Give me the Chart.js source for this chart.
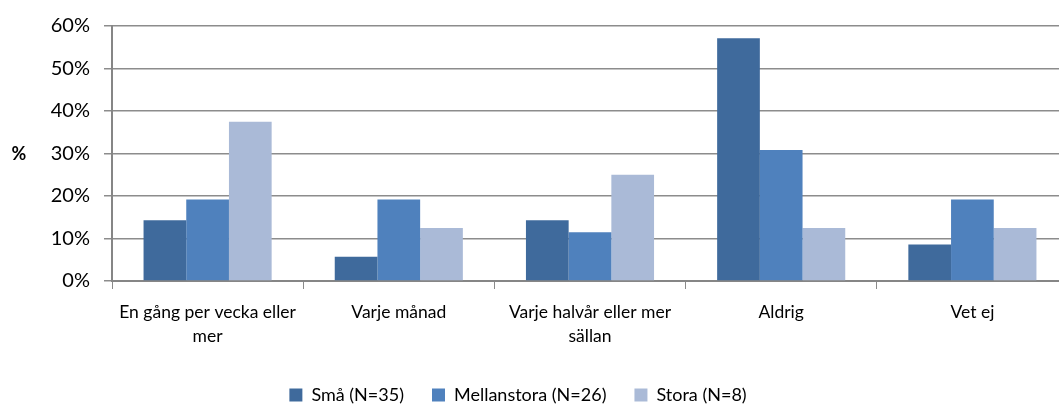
<!DOCTYPE html>
<html>
<head>
<meta charset="utf-8">
<script src="https://cdn.jsdelivr.net/npm/chart.js@4"></script>
<style>
  html, body { margin: 0; padding: 0; background: #fff; overflow: hidden; }
  #wrap { width: 1068px; height: 405px; }
</style>
</head>
<body>
<div id="wrap"><canvas id="chart" width="1068" height="405"></canvas></div>
<script>
// categories (wrapped the way the original wraps them)
const categories = [
  ["En gång per vecka eller", "mer"],
  "Varje månad",
  ["Varje halvår eller mer", "sällan"],
  "Aldrig",
  "Vet ej"
];
const seriesNames = ["Små (N=35)", "Mellanstora (N=26)", "Stora (N=8)"];
const smaValues = [14.3, 5.7, 14.3, 57.1, 8.6];
const mellanValues = [19.2, 19.2, 11.5, 30.8, 19.2];
const storaValues = [37.5, 12.5, 25.0, 12.5, 12.5];
const yTicks = [0, 10, 20, 30, 40, 50, 60];
const yTitle = "%";

const colors = ["#3F6A9C", "#4F81BD", "#AABAD7"];
const font = "Lato, 'Open Sans', sans-serif";

// draws the horizontal "%" to the left of the y labels
const yTitlePlugin = {
  id: "yTitle",
  afterLayout(chart) {
    // legend sits a bit left of centre in the original
    chart.legend.left -= 16;
    chart.legend.right -= 16;
  },
  afterDraw(chart) {
    const ctx = chart.ctx;
    const y = chart.scales.y;
    ctx.save();
    ctx.font = "bold 18px " + font;
    ctx.fillStyle = "#000";
    ctx.textAlign = "center";
    ctx.textBaseline = "middle";
    ctx.fillText(yTitle, 19, (y.top + y.bottom) / 2 + 1);
    ctx.restore();
  }
};

const ctx = document.getElementById("chart");
new Chart(ctx, {
  type: "bar",
  data: {
    labels: categories,
    datasets: [
      { label: seriesNames[0], data: smaValues, backgroundColor: colors[0] },
      { label: seriesNames[1], data: mellanValues, backgroundColor: colors[1] },
      { label: seriesNames[2], data: storaValues, backgroundColor: colors[2] }
    ]
  },
  options: {
    responsive: false,
    animation: false,
    devicePixelRatio: 1,
    layout: { padding: { top: 14, left: 0, right: 0, bottom: -9 } },
    datasets: { bar: { categoryPercentage: 0.67, barPercentage: 1.0 } },
    plugins: {
      tooltip: { enabled: false },
      legend: {
        position: "bottom",
        labels: {
          boxWidth: 13,
          boxHeight: 13,
          padding: 28,
          color: "#000",
          font: { family: font, size: 18 }
        }
      }
    },
    scales: {
      x: {
        offset: true,
        afterFit(scale) { scale.height = 77; },
        grid: {
          offset: true,
          drawOnChartArea: false,
          drawTicks: true,
          tickLength: 8,
          color: "#8a8a8a"
        },
        border: { color: "#868686", width: 2 },
        ticks: {
          color: "#000",
          padding: 12,
          maxRotation: 0,
          autoSkip: false,
          font: { family: font, size: 17.5, lineHeight: 1.35 }
        }
      },
      y: {
        min: 0,
        max: 60,
        afterFit(scale) { scale.width = 112; },
        afterBuildTicks(scale) { scale.ticks = yTicks.map(v => ({ value: v })); },
        grid: {
          color: "#8c8c8c",
          lineWidth: 1.5,
          tickLength: 8
        },
        border: { color: "#868686", width: 2 },
        ticks: {
          color: "#000",
          padding: 14,
          font: { family: font, size: 20 },
          callback: v => v + "%"
        }
      }
    }
  },
  plugins: [yTitlePlugin]
});
</script>
</body>
</html>
